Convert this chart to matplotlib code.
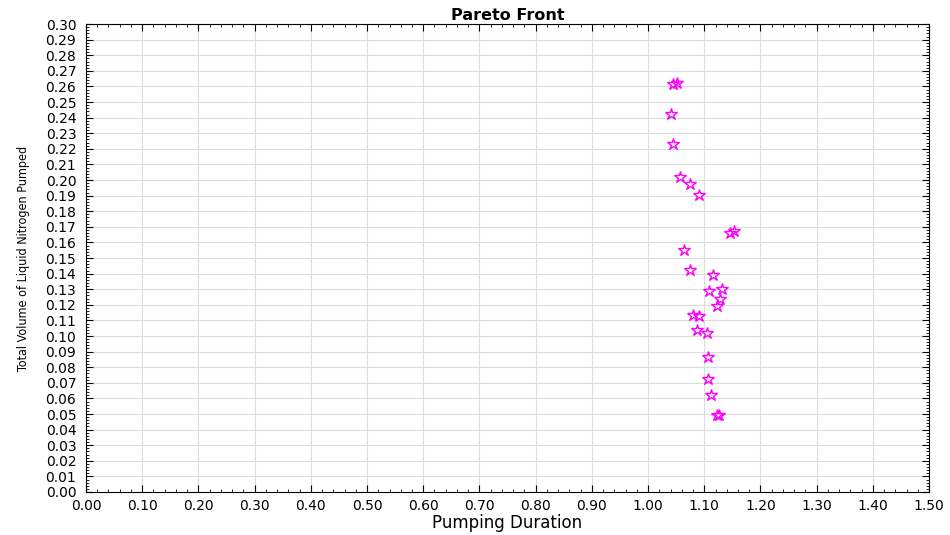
import matplotlib
matplotlib.use("Agg")
import matplotlib.pyplot as plt
from matplotlib.ticker import MultipleLocator, FormatStrFormatter
from matplotlib import font_manager

pumping_duration = [1.044, 1.052, 1.041, 1.044, 1.057, 1.075, 1.091, 1.146, 1.153,
                    1.064, 1.075, 1.116, 1.132, 1.108, 1.128, 1.123, 1.080, 1.091,
                    1.087, 1.105, 1.107, 1.107, 1.112, 1.122, 1.127]
total_volume = [0.2615, 0.2622, 0.2423, 0.2231, 0.2019, 0.1974, 0.1904, 0.1660, 0.1673,
                0.1551, 0.1423, 0.1391, 0.1301, 0.1288, 0.1237, 0.1192, 0.1135, 0.1128,
                0.1038, 0.1019, 0.0865, 0.0724, 0.0622, 0.0494, 0.0495]

title = "Pareto Front"
xlabel = "Pumping Duration"
ylabel = "Total Volume of Liquid Nitrogen Pumped"

plt.rcParams['font.family'] = ['DejaVu Sans']

has_condensed = any(f.name == 'DejaVu Sans' and f.stretch == 'condensed'
                    and f.weight in (400, 'normal') and f.style == 'normal'
                    for f in font_manager.fontManager.ttflist)

fig = plt.figure(figsize=(9.5, 5.35), dpi=100)
ax = fig.add_axes([0.0905, 0.0804, 0.8875, 0.8746])

ax.plot(pumping_duration, total_volume, linestyle='none', marker='*',
        markersize=9, markerfacecolor='none', markeredgecolor='#ff00ff',
        markeredgewidth=1.0, zorder=3)

ax.set_xlim(0, 1.5)
ax.set_ylim(0, 0.30)
ax.xaxis.set_major_locator(MultipleLocator(0.1))
ax.xaxis.set_minor_locator(MultipleLocator(0.02))
ax.yaxis.set_major_locator(MultipleLocator(0.01))
ax.yaxis.set_minor_locator(MultipleLocator(0.002))
ax.xaxis.set_major_formatter(FormatStrFormatter('%.2f'))
ax.yaxis.set_major_formatter(FormatStrFormatter('%.2f'))

ax.grid(True, which='major', color='#dcdcdc', linewidth=0.8)
ax.set_axisbelow(True)
ax.tick_params(which='both', direction='in', top=True, right=True, colors='black')
ax.tick_params(which='major', length=5, width=0.8, labelsize=10)
ax.tick_params(axis='x', which='major', pad=5)
ax.tick_params(axis='y', which='major', pad=7)
ax.tick_params(which='minor', length=2.5, width=0.6)
for s in ax.spines.values():
    s.set_linewidth(0.8)

ax.set_title(title, fontsize=11.5, fontweight='bold', pad=3)
ax.set_xlabel(xlabel, fontsize=12, labelpad=1)
if has_condensed:
    ax.set_ylabel(ylabel, fontsize=9, family=['DejaVu Sans'], fontstretch='condensed', labelpad=11)
else:
    ax.set_ylabel(ylabel, fontsize=9, family=['Liberation Sans'], labelpad=11)

fig.savefig("out.png", dpi=100)
